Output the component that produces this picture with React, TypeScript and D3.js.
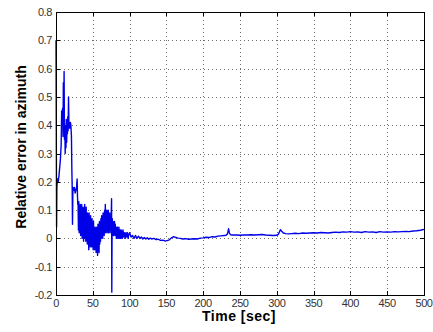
import React from "react";
import * as d3 from "d3";

// Time samples [sec]
const timeSec: number[] = [
  0, 0.3, 0.8, 1.2, 2, 3, 4, 5, 6, 7,
  7.7, 8.5, 9, 9.5, 10, 10.5, 11, 11.5, 12, 12.5,
  13, 13.5, 14, 14.5, 15, 15.5, 16, 16.5, 17, 17.7,
  18.2, 18.8, 19.5, 20.2, 21, 21.5, 22, 22.4, 23, 24,
  25, 26, 27, 28, 28.7, 29.2, 29.6,
  30, 30.5, 31, 31.5, 32, 32.5, 33, 33.5, 34, 34.5,
  35, 35.5, 36, 36.5, 37, 37.5, 38, 38.5, 39, 39.5,
  40, 40.5, 41, 41.5, 42, 42.5, 43, 43.5, 44, 44.5,
  45, 45.5, 46, 46.5, 47, 47.5, 48, 48.5, 49, 49.5,
  50, 50.5, 51, 51.5, 52, 52.5, 53, 53.5, 54, 54.5,
  55, 55.5, 56, 56.5, 57, 57.5, 58, 58.5, 59, 59.5,
  60, 60.5, 61, 61.5, 62, 62.5, 63, 63.5, 64, 64.5,
  65, 65.5, 66, 66.5, 67, 67.5, 68, 68.5, 69, 69.5,
  70, 70.5, 71, 71.5, 72, 72.5, 73, 73.5, 74, 74.5,
  75, 75.5, 75.8, 76.2, 76.5, 77, 77.5, 78, 78.5, 79,
  79.5, 80, 80.5, 81, 81.5, 82, 82.5, 83, 83.5, 84,
  84.5, 85, 85.5, 86, 86.5, 87, 87.5, 88, 88.5, 89,
  89.5, 90, 91, 92, 93, 94, 95, 96, 97, 98,
  99, 100, 102, 104, 106, 108, 110, 112, 114, 116,
  118, 120, 122, 124, 126, 128, 130, 133, 136, 139,
  142, 145, 148, 151, 154, 157, 160, 163, 166, 169,
  172, 176, 180, 184, 188, 192, 196, 200, 204, 208,
  212, 216, 220, 224, 228, 231, 233, 234.5, 235.5, 237,
  240, 245, 250, 255, 260, 265, 270, 275, 280, 285,
  290, 295, 300, 302, 305, 307, 309, 312, 316, 320,
  325, 330, 335, 340, 345, 350, 355, 360, 365, 370,
  375, 380, 385, 390, 395, 400, 405, 410, 415, 420,
  425, 430, 435, 440, 445, 450, 455, 460, 465, 470,
  475, 480, 485, 490, 495, 500,
];

// Relative error in azimuth
const relError: number[] = [
  0.70, 0.45, 0.04, 0.18, 0.21, 0.20, 0.22, 0.25, 0.28, 0.33,
  0.45, 0.40, 0.46, 0.36, 0.55, 0.42, 0.59, 0.35, 0.40, 0.30,
  0.38, 0.32, 0.42, 0.34, 0.40, 0.37, 0.43, 0.38, 0.50, 0.39,
  0.41, 0.39, 0.41, 0.40, 0.36, 0.25, 0.18, 0.05, 0.18, 0.17,
  0.18, 0.16, 0.17, 0.18, 0.21, 0.15, 0.12,
  0.12, 0.03, 0.13, 0.02, 0.10, 0.04, 0.12, 0.01, 0.11, 0.03,
  0.12, 0.00, 0.10, 0.02, 0.11, -0.01, 0.09, 0.01, 0.12, 0.00,
  0.10, -0.01, 0.11, 0.01, 0.08, -0.02, 0.09, -0.01, 0.07, -0.04,
  0.09, -0.02, 0.06, -0.03, 0.08, -0.01, 0.05, -0.03, 0.07, -0.02,
  0.04, -0.04, 0.06, -0.02, 0.03, -0.04, 0.04, -0.03, 0.02, -0.05,
  0.04, -0.03, 0.03, -0.06, 0.05, -0.04, 0.04, -0.05, 0.06, -0.02,
  0.05, -0.01, 0.07, 0.00, 0.08, 0.01, 0.07, 0.00, 0.09, 0.02,
  0.08, 0.01, 0.10, 0.03, 0.12, 0.02, 0.09, 0.03, 0.10, 0.02,
  0.08, 0.03, 0.10, 0.02, 0.08, 0.03, 0.09, 0.02, 0.07, 0.03,
  0.08, 0.14, -0.19, 0.04, 0.07, 0.02, 0.06, 0.01, 0.05, 0.02,
  0.06, 0.01, 0.05, 0.02, 0.04, 0.00, 0.04, 0.01, 0.04, 0.00,
  0.03, 0.01, 0.04, 0.00, 0.03, 0.01, 0.03, 0.00, 0.03, 0.01,
  0.025, 0.00, 0.03, 0.005, 0.02, 0.00, 0.02, 0.005, 0.02, 0.00,
  0.015, 0.02, 0.005, 0.01, 0.0, 0.01, 0.0, 0.008, 0.0, 0.005,
  -0.002, 0.003, -0.002, 0.002, -0.003, 0.001, -0.002, 0.0, -0.004, -0.003,
  -0.007, -0.006, -0.009, -0.008, -0.005, 0.002, 0.006, 0.003, 0.001, 0.0,
  -0.002, -0.001, -0.003, -0.002, -0.001, -0.002, 0.001, 0.002, 0.004, 0.003,
  0.006, 0.005, 0.008, 0.009, 0.010, 0.011, 0.016, 0.034, 0.02, 0.013,
  0.012, 0.012, 0.011, 0.012, 0.012, 0.013, 0.012, 0.013, 0.014, 0.012,
  0.011, 0.010, 0.011, 0.014, 0.031, 0.024, 0.019, 0.017, 0.016, 0.017,
  0.018, 0.017, 0.019, 0.018, 0.019, 0.020, 0.019, 0.021, 0.020, 0.019,
  0.021, 0.022, 0.021, 0.023, 0.022, 0.024, 0.022, 0.023, 0.021, 0.024,
  0.022, 0.023, 0.021, 0.024, 0.022, 0.023, 0.022, 0.024, 0.023, 0.024,
  0.025, 0.024, 0.026, 0.027, 0.029, 0.032,
];

const xTicks: number[] = [0, 50, 100, 150, 200, 250, 300, 350, 400, 450, 500];
const yTicks: number[] = [-0.2, -0.1, 0, 0.1, 0.2, 0.3, 0.4, 0.5, 0.6, 0.7, 0.8];
const xLabel = "Time [sec]";
const yLabel = "Relative error in azimuth";

export default function App() {
  const W = 433;
  const H = 332;
  const left = 56;
  const right = 424;
  const top = 12;
  const bottom = 295;

  const x = d3.scaleLinear().domain([0, 500]).range([left, right]);
  const y = d3.scaleLinear().domain([-0.2, 0.8]).range([bottom, top]);

  const pts: [number, number][] = timeSec.map((t, i) => [t, relError[i]]);
  const line = d3
    .line<[number, number]>()
    .x((d) => x(d[0]))
    .y((d) => y(d[1]));

  const fmtY = (v: number) => {
    const s = d3.format(".1f")(v).replace("−", "-");
    return s === "0.0" || s === "-0.0" ? "0" : s;
  };

  const tickLen = 4;
  const font = "Arial, 'Liberation Sans', sans-serif";

  return (
    <svg
      width={W}
      height={H}
      style={{ position: "absolute", left: 0, top: 0, background: "#fff" }}
    >
      <rect x={0} y={0} width={W} height={H} fill="#fff" />
      {/* grid */}
      <g stroke="#333" strokeWidth={1} strokeDasharray="1 3" opacity={0.7}>
        {xTicks.slice(1, -1).map((t) => (
          <line key={"gx" + t} x1={Math.round(x(t)) + 0.5} x2={Math.round(x(t)) + 0.5} y1={top} y2={bottom} />
        ))}
        {yTicks.slice(1, -1).map((t) => (
          <line key={"gy" + t} x1={left} x2={right} y1={Math.round(y(t)) + 0.5} y2={Math.round(y(t)) + 0.5} />
        ))}
      </g>
      {/* data */}
      <path d={line(pts) || ""} fill="none" stroke="#0000e8" strokeWidth={1.4} strokeLinejoin="round" />
      {/* ticks */}
      <g stroke="#000" strokeWidth={1}>
        {xTicks.map((t) => (
          <g key={"tx" + t}>
            <line x1={Math.round(x(t)) + 0.5} x2={Math.round(x(t)) + 0.5} y1={bottom} y2={bottom - tickLen} />
            <line x1={Math.round(x(t)) + 0.5} x2={Math.round(x(t)) + 0.5} y1={top} y2={top + tickLen} />
          </g>
        ))}
        {yTicks.map((t) => (
          <g key={"ty" + t}>
            <line x1={left} x2={left + tickLen} y1={Math.round(y(t)) + 0.5} y2={Math.round(y(t)) + 0.5} />
            <line x1={right} x2={right - tickLen} y1={Math.round(y(t)) + 0.5} y2={Math.round(y(t)) + 0.5} />
          </g>
        ))}
      </g>
      {/* box */}
      <rect x={left + 0.5} y={top + 0.5} width={right - left} height={bottom - top} fill="none" stroke="#000" strokeWidth={1} />
      {/* tick labels */}
      <g fontFamily={font} fontSize={11} fill="#333" letterSpacing={-0.4}>
        {xTicks.map((t) => (
          <text key={"lx" + t} x={x(t)} y={307} textAnchor="middle">
            {String(t)}
          </text>
        ))}
        {yTicks.map((t) => (
          <text key={"ly" + t} x={52} y={y(t) + 4} textAnchor="end">
            {fmtY(t)}
          </text>
        ))}
      </g>
      {/* axis titles */}
      <text x={239} y={321} textAnchor="middle" fontFamily={font} fontSize={14} fontWeight="bold" letterSpacing={0.5} fill="#000">
        {xLabel}
      </text>
      <text
        transform={`translate(26, ${(65 + 229) / 2}) rotate(-90)`}
        textAnchor="middle"
        fontFamily={font}
        fontSize={14}
        fontWeight="bold"
        fill="#000"
      >
        {yLabel}
      </text>
    </svg>
  );
}
